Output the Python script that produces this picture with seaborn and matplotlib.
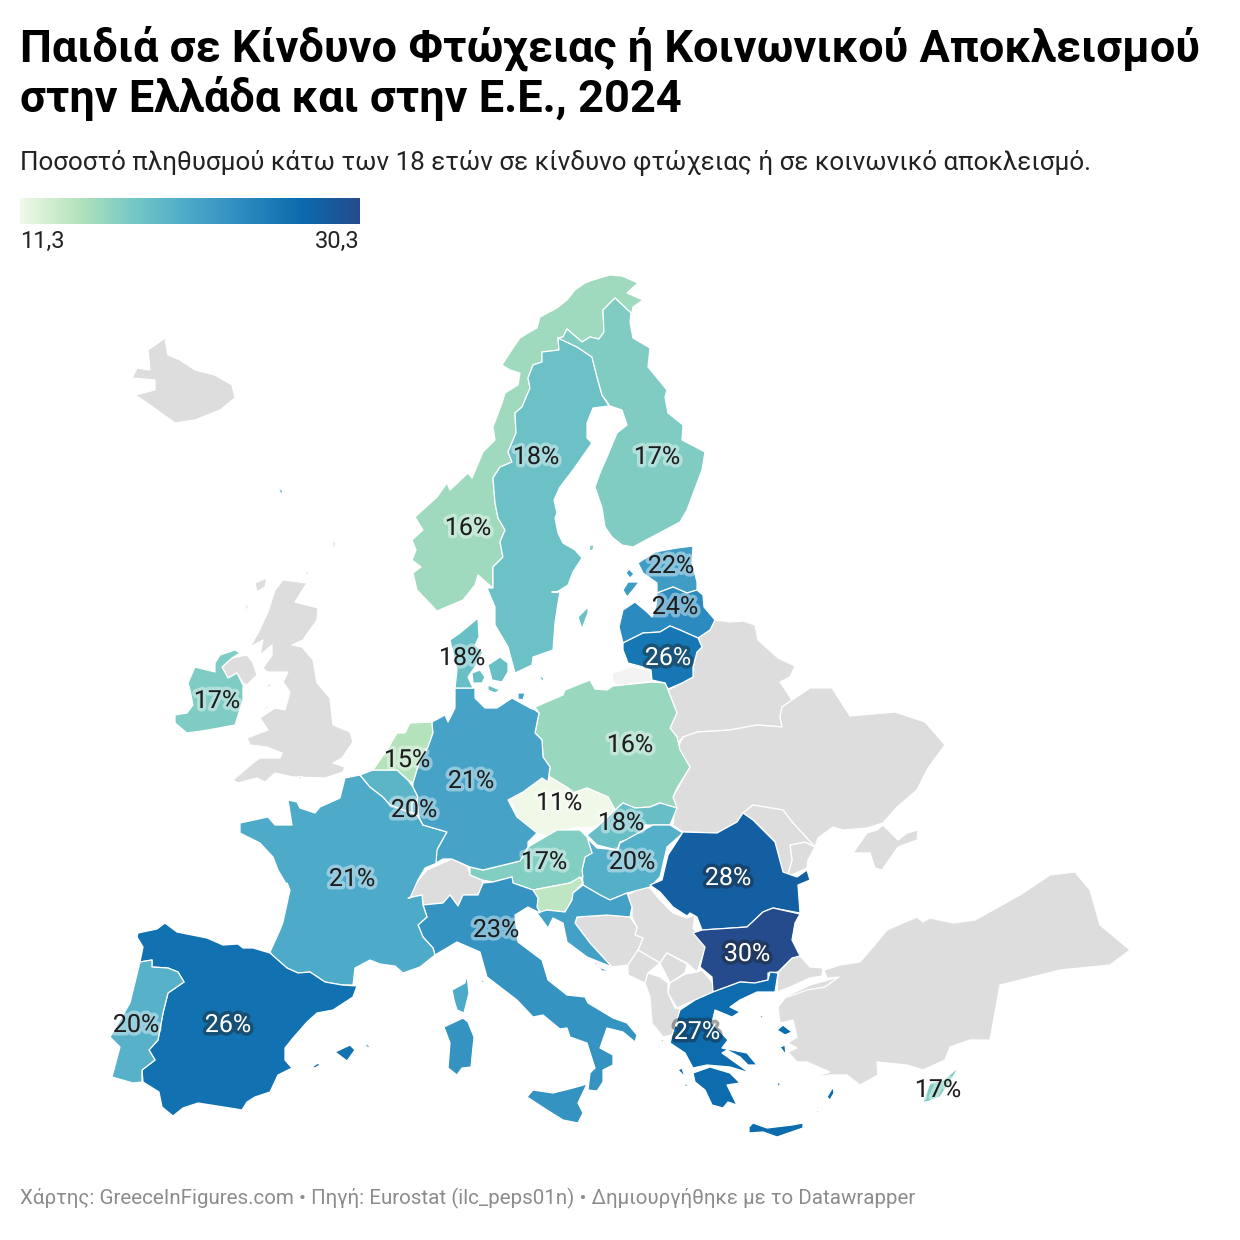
import numpy as np
import matplotlib
matplotlib.use("Agg")
import matplotlib.pyplot as plt
import matplotlib.patheffects as pe
import seaborn as sns

TITLE = ["Παιδιά σε Κίνδυνο Φτώχειας ή Κοινωνικού Αποκλεισμού", "στην Ελλάδα και στην Ε.Ε., 2024"]
SUBTITLE = "Ποσοστό πληθυσμού κάτω των 18 ετών σε κίνδυνο φτώχειας ή σε κοινωνικό αποκλεισμό."
FOOTER = "Χάρτης: GreeceInFigures.com • Πηγή: Eurostat (ilc_peps01n) • Δημιουργήθηκε με το Datawrapper"
LEGEND_MIN, LEGEND_MAX = "11,3", "30,3"

# Country values (share of under-18s at risk, %)
countries = ["NO", "SE", "FI", "EE", "LV", "LT", "PL", "CZ", "SK", "HU", "AT", "SI", "HR", "RO", "BG", "GR",
             "IT", "FR", "ES", "PT", "BE", "LU", "NL", "DE", "DK", "IE", "CY"]
values = [15.6, 18.3, 17.1, 21.9, 23.8, 25.7, 15.9, 11.3, 18.6, 20.1, 17.0, 14.0, 21.6, 28.2, 30.3, 26.9,
          22.9, 20.6, 26.3, 19.9, 19.5, 21.0, 14.6, 21.3, 18.5, 17.2, 17.0]
palette_stops = ["#f0f9e8", "#b6e3bb", "#75c8c5", "#4ba8c9", "#2989bd", "#0a6aad", "#254b8c"]

# Labels
label_text = ["18%", "17%", "16%", "22%", "24%", "26%", "18%", "17%", "16%", "15%", "21%", "11%",
              "20%", "18%", "17%", "20%", "28%", "21%", "23%", "30%", "26%", "20%", "27%", "17%"]
label_country = ["SE", "FI", "NO", "EE", "LV", "LT", "DK", "IE", "PL", "NL", "DE", "CZ",
                 "BE", "SK", "AT", "HU", "RO", "FR", "IT", "BG", "ES", "PT", "GR", "CY"]
label_x = [536, 657, 468, 671, 675, 668, 462, 217, 630, 407, 471, 559, 414, 621, 544, 632, 728, 352, 496, 747, 228, 136, 697, 938]
label_y = [457, 457, 528, 566, 607, 658, 658, 701, 745, 760, 781, 803, 810, 823, 862, 862, 878, 879, 930, 954, 1025, 1025, 1032, 1090]

# Map geometry (outlines of the base map, in figure pixels)
outlines = {
 "IS": [[(132,378),(137,368),(150,370),(148,350),(165,338),(168,355),(180,360),(195,370),(215,375),(232,385),(235,398),(220,410),(195,420),(175,423),(150,405),(135,395),(155,390),(155,380)]],
 "GB": [[(283,580),(307,583),(295,602),(318,608),(317,620),(303,640),(292,645),(302,647),(313,660),(317,683),(330,698),(333,725),(350,732),(353,742),(342,758),(333,763),(345,767),(343,772),(325,778),(293,777),(275,773),(265,782),(257,778),(238,783),(233,780),(253,763),(260,758),(280,758),(282,753),(267,747),(250,745),(247,738),(268,730),(260,718),(275,708),(285,710),(290,692),(283,682),(288,672),(267,672),(263,668),(272,655),(272,645),(260,655),(263,640),(250,647),(258,633),(268,612),(275,590)],
        [(255,583),(267,578),(265,587),(257,592)], [(245,608),(248,602),(248,610)],
        [(265,687),(272,682),(270,687)], [(265,705),(268,707),(267,712)], [(306,571),(309,572),(306,577)],
        [(333,540),(336,543),(333,552)], [(298,777),(303,777),(300,780)]],
 "NI": [[(222,667),(232,658),(247,655),(253,663),(257,675),(247,685),(243,683),(237,673),(228,678)]],
 "CH": [[(408,898),(413,887),(427,870),(452,859),(468,867),(470,875),(482,880),(483,888),(478,895),(463,895),(458,906),(450,895),(443,903),(423,905),(422,895)]],
 "BY": [[(715,620),(730,622),(743,621),(755,625),(758,640),(778,658),(795,666),(790,677),(780,682),(792,700),(782,707),(780,717),(782,727),(757,725),(730,730),(697,732),(683,737),(678,743),(677,737),(670,728),(677,713),(668,690),(682,683),(693,677),(693,667),(697,652),(702,647),(698,638),(710,630)]],
 "UA": [[(678,747),(683,737),(697,732),(730,730),(757,725),(782,727),(780,717),(782,707),(792,700),(810,688),(832,688),(850,716),(895,712),(925,722),(945,745),(928,768),(917,790),(897,807),(883,823),(867,828),(843,830),(833,827),(818,838),(815,847),(793,823),(783,810),(753,805),(743,813),(737,822),(717,833),(688,832),(683,832),(673,825),(675,807),(673,797),(690,767)],
        [(815,847),(808,860),(807,868),(787,877),(792,860),(790,845),(805,842)],
        [(867,833),(877,830),(883,825),(898,840),(907,833),(918,830),(917,840),(898,847),(882,870),(875,868),(870,853),(853,853)]],
 "MD": [[(753,805),(783,810),(793,823),(815,847),(805,842),(790,845),(792,860),(787,877),(783,872),(775,842),(753,820),(743,813)]],
 "RS": [[(627,895),(643,887),(650,888),(660,900),(673,913),(687,918),(695,915),(693,928),(707,945),(700,963),(697,972),(687,963),(667,953),(660,963),(638,950),(643,938),(635,935),(637,927),(632,917),(632,907)]],
 "XK": [[(667,953),(687,964),(685,973),(670,983),(660,963)]],
 "BA": [[(577,917),(607,915),(630,917),(637,927),(635,935),(643,938),(638,950),(628,965),(612,967),(590,943),(575,923)]],
 "ME": [[(638,950),(660,963),(648,973),(645,983),(628,975),(628,965)]],
 "MK": [[(670,983),(685,974),(697,972),(702,970),(713,983),(713,992),(695,1000),(677,1008),(668,993)]],
 "AL": [[(648,973),(660,977),(668,983),(668,993),(675,1008),(682,1010),(678,1023),(672,1035),(663,1037),(652,1023),(650,997),(645,983)]],
 "TR": [[(778,972),(792,958),(800,956),(810,967),(823,968),(822,976),(810,978),(790,987),(777,992)],
        [(783,998),(810,985),(839,977),(825,987),(800,993),(787,1002)],
        [(824,970),(840,965),(860,962),(873,947),(887,930),(917,917),(923,922),(930,918),(953,923),(975,920),(1020,895),(1050,875),(1075,872),(1090,890),(1100,925),(1130,950),(1110,965),(1060,970),(1000,985),(990,1040),(970,1040),(950,1047),(945,1060),(923,1070),(907,1065),(877,1062),(878,1075),(860,1085),(847,1075),(830,1075),(813,1077),(830,1072),(807,1062),(797,1062),(788,1052),(797,1048),(788,1043),(797,1037),(793,1020),(780,1023),(778,1007),(785,998),(807,990),(825,987),(839,977),(827,978)]],
 "RU_K": [[(613,673),(630,667),(650,670),(652,681),(617,686),(612,680)]],
 "NO": [[(610,275),(622,276),(638,283),(627,293),(643,300),(633,307),(630,322),(631,313),(615,298),(603,310),(604,332),(599,339),(590,337),(582,342),(567,329),(563,337),(558,338),(559,350),(542,352),(542,362),(533,365),(528,378),(530,388),(522,407),(515,413),(516,433),(508,452),(512,462),(500,467),(493,478),(495,503),(498,518),(505,530),(500,542),(503,557),(493,567),(493,588),(487,583),(478,575),(475,585),(463,600),(437,611),(417,590),(413,573),(421,567),(412,560),(416,550),(412,540),(423,530),(415,517),(437,497),(447,483),(450,490),(468,473),(472,478),(483,452),(495,440),(493,427),(502,403),(505,393),(518,385),(520,373),(510,370),(502,365),(513,348),(520,338),(528,333),(537,328),(540,317),(557,308),(567,300),(575,290),(585,283),(593,280),(603,277)]],
 "SE": [[(558,338),(577,347),(592,357),(597,377),(602,395),(609,406),(593,408),(587,423),(587,438),(592,443),(573,470),(560,487),(554,500),(557,513),(555,518),(558,533),(563,543),(575,550),(582,558),(573,572),(568,585),(557,592),(552,592),(560,592),(558,603),(555,623),(553,650),(533,657),(532,665),(515,673),(508,647),(495,625),(495,607),(487,588),(493,588),(493,567),(503,557),(500,542),(505,530),(498,518),(495,503),(493,478),(500,467),(512,462),(508,452),(516,433),(515,413),(522,407),(530,388),(528,378),(533,365),(542,362),(542,352),(559,350)],
        [(578,617),(588,607),(588,613),(582,629)], [(565,622),(558,647),(560,635)]],
 "FI": [[(567,329),(582,342),(590,337),(599,339),(604,332),(603,310),(615,298),(631,313),(630,322),(633,338),(650,348),(648,367),(667,390),(665,397),(668,413),(683,425),(682,440),(705,452),(702,470),(687,510),(680,522),(633,547),(622,545),(612,537),(605,527),(602,508),(595,487),(600,473),(607,457),(617,433),(627,425),(622,410),(610,406),(602,395),(597,377),(592,357),(577,347),(558,338),(563,337)],
        [(590,545),(594,545),(593,550),(589,551)]],
 "EE": [[(693,546),(692,563),(697,582),(697,590),(687,593),(673,587),(657,593),(657,583),(643,573),(638,563),(655,552),(677,548)],
        [(623,590),(628,582),(639,582),(633,590),(627,597)], [(626,573),(629,569),(634,574),(630,578)]],
 "LV": [[(657,593),(673,587),(687,593),(697,590),(703,595),(704,607),(715,620),(710,630),(698,638),(680,630),(670,626),(660,632),(643,633),(623,643),(619,627),(623,610),(635,602),(647,612),(652,617),(656,606)]],
 "LT": [[(623,643),(643,633),(660,632),(670,626),(680,630),(698,638),(702,647),(697,652),(693,667),(693,677),(682,683),(668,689),(665,683),(652,680),(651,670),(643,667),(628,663),(623,650)]],
 "PL": [[(535,707),(563,695),(565,690),(590,680),(595,689),(607,690),(613,686),(652,682),(665,683),(668,690),(677,713),(670,728),(677,737),(680,750),(690,767),(677,788),(673,797),(677,808),(660,803),(650,807),(635,808),(623,803),(615,810),(608,797),(587,788),(573,793),(568,788),(550,777),(548,782),(550,767),(543,757),(542,740),(535,733),(539,713)]],
 "CZ": [[(508,800),(523,792),(542,778),(548,782),(550,777),(568,788),(573,793),(587,788),(608,797),(615,810),(597,827),(572,828),(552,838),(537,833),(517,817),(513,805)]],
 "SK": [[(615,810),(623,803),(635,808),(650,807),(660,803),(677,808),(670,825),(660,825),(645,825),(643,835),(620,842),(617,850),(597,845),(587,835),(597,827)]],
 "HU": [[(670,825),(683,833),(667,847),(660,877),(650,887),(627,893),(610,900),(600,895),(583,885),(582,870),(585,857),(592,853),(587,838),(597,848),(618,850),(620,843),(653,825)]],
 "AT": [[(470,867),(483,870),(520,861),(528,847),(557,830),(580,830),(587,837),(592,853),(585,857),(582,870),(583,877),(570,883),(533,890),(513,883),(512,877),(493,882),(482,880),(470,875)]],
 "SI": [[(533,890),(570,883),(580,877),(583,883),(573,893),(572,900),(565,912),(547,910),(540,913),(537,907),(538,898)]],
 "HR": [[(583,885),(600,895),(610,900),(627,893),(632,907),(630,917),(607,915),(577,917),(575,923),(590,943),(612,967),(587,957),(567,942),(563,923),(553,918),(548,928),(537,913),(547,910),(565,912),(572,900),(573,893)],
        [(592,962),(600,964),(596,965)], [(598,967),(610,971),(602,971)]],
 "RO": [[(683,832),(717,833),(737,822),(743,813),(753,820),(775,842),(783,872),(797,877),(807,870),(810,880),(798,885),(800,913),(773,908),(763,912),(747,927),(702,930),(697,917),(690,913),(687,916),(673,907),(660,892),(650,885),(662,880),(668,855)]],
 "BG": [[(693,933),(702,930),(747,927),(763,912),(773,908),(800,914),(795,923),(792,940),(800,956),(792,958),(778,972),(768,973),(768,980),(755,983),(740,982),(713,992),(712,977),(700,967),(705,947)]],
 "GR": [[(713,992),(740,982),(755,983),(768,980),(770,972),(778,973),(775,992),(757,992),(740,1000),(730,1007),(740,1012),(732,1017),(715,1010),(712,1023),(728,1040),(722,1048),(747,1053),(757,1065),(748,1065),(740,1057),(727,1050),(722,1053),(750,1073),(730,1067),(707,1065),(693,1068),(685,1053),(670,1043),(673,1032),(680,1010),(695,1000)],
        [(693,1073),(710,1067),(730,1073),(740,1083),(727,1085),(737,1105),(728,1102),(723,1108),(712,1105),(705,1090),(695,1082)],
        [(749,1127),(753,1123),(767,1128),(792,1125),(803,1123),(803,1128),(777,1137),(763,1132),(749,1133)],
        [(777,1030),(783,1025),(792,1032),(785,1035)], [(780,1047),(785,1045),(786,1055)],
        [(827,1097),(833,1087),(834,1093),(830,1100)], [(758,1017),(764,1015),(762,1018)],
        [(746,1000),(749,1002),(747,1003)], [(659,1038),(663,1040),(665,1045)],
        [(678,1070),(682,1068),(685,1077)], [(683,1083),(688,1085),(686,1087)],
        [(818,1107),(819,1114),(817,1112)], [(777,1083),(781,1083),(778,1087)]],
 "IT": [[(423,905),(443,903),(450,895),(458,906),(463,895),(478,895),(483,883),(493,882),(512,877),(513,883),(533,890),(538,898),(537,907),(540,913),(528,907),(515,915),(518,942),(542,960),(548,980),(567,995),(585,997),(588,1003),(613,1018),(627,1023),(637,1035),(635,1042),(623,1032),(607,1028),(600,1048),(613,1055),(613,1065),(603,1070),(603,1082),(597,1091),(588,1090),(590,1073),(595,1068),(587,1043),(570,1037),(567,1028),(560,1029),(543,1015),(533,1017),(517,1000),(487,977),(480,952),(457,942),(435,955),(433,948),(423,937),(418,925),(427,917)],
        [(527,1097),(533,1090),(553,1093),(573,1088),(587,1084),(578,1103),(583,1113),(578,1123),(563,1120),(547,1110)],
        [(444,1027),(463,1018),(468,1022),(474,1037),(471,1067),(462,1068),(457,1075),(448,1068),(450,1043)],
        [(480,981),(484,980),(483,983)], [(566,1142),(569,1143),(567,1143)]],
 "FR": [[(360,775),(370,787),(383,797),(390,805),(417,815),(423,825),(447,832),(438,848),(437,863),(425,868),(418,880),(410,898),(408,898),(422,895),(423,905),(427,917),(418,925),(423,937),(433,948),(435,955),(420,967),(403,973),(395,966),(380,964),(370,960),(355,968),(353,985),(342,985),(325,982),(310,972),(298,973),(287,968),(272,955),(270,952),(280,930),(283,922),(290,890),(287,883),(288,887),(278,870),(273,857),(260,843),(240,833),(240,823),(268,817),(275,825),(292,825),(288,800),(297,802),(300,808),(315,813),(320,807),(340,798),(345,778)],
        [(452,990),(465,983),(467,975),(469,993),(464,1013),(457,1010),(454,1000)]],
 "ES": [[(138,933),(157,929),(165,923),(177,932),(207,938),(223,945),(238,944),(243,948),(253,948),(270,953),(287,968),(298,973),(310,972),(325,982),(342,985),(357,986),(353,997),(333,1010),(317,1013),(307,1022),(293,1038),(285,1048),(285,1060),(292,1068),(278,1075),(270,1092),(255,1097),(247,1102),(242,1110),(230,1108),(198,1103),(183,1108),(173,1116),(162,1107),(159,1092),(143,1082),(142,1070),(155,1060),(149,1050),(158,1040),(163,1013),(168,993),(184,982),(178,972),(168,968),(152,967),(152,960),(140,962),(143,947),(137,937)],
        [(335,1052),(350,1045),(355,1050),(347,1061)], [(363,1044),(368,1045),(372,1048),(367,1047)], [(312,1067),(318,1063),(320,1065),(315,1068)]],
 "PT": [[(140,962),(152,960),(152,967),(168,968),(178,972),(184,982),(168,993),(163,1013),(158,1040),(149,1050),(155,1060),(142,1070),(142,1082),(133,1083),(112,1077),(120,1047),(110,1037),(130,1003)]],
 "BE": [[(360,775),(373,770),(397,770),(408,780),(413,787),(418,797),(417,800),(412,803),(412,812),(417,815),(390,805),(383,797),(370,787)]],
 "LU": [[(417,800),(419,817),(417,815),(412,812),(412,803)]],
 "NL": [[(373,770),(387,750),(397,733),(405,733),(410,723),(432,722),(433,733),(428,747),(420,760),(417,770),(413,783),(408,780),(397,770)]],
 "DE": [[(432,722),(445,715),(448,722),(455,708),(455,688),(475,688),(475,698),(485,708),(497,708),(512,698),(530,708),(535,710),(539,713),(535,733),(542,740),(543,757),(550,767),(548,782),(542,778),(523,792),(508,800),(517,817),(537,833),(528,842),(528,847),(520,861),(483,870),(470,867),(452,859),(443,859),(436,863),(437,850),(447,832),(423,825),(419,817),(417,800),(418,797),(413,787),(413,783),(417,770),(420,760),(428,747),(433,733)],
        [(518,693),(525,693),(523,700),(518,699)]],
 "DK": [[(478,618),(479,637),(475,645),(483,652),(475,667),(468,677),(473,688),(455,688),(457,670),(450,640),(460,633)],
        [(500,657),(508,663),(508,672),(502,682),(492,680),(488,665)],
        [(472,673),(480,670),(485,677),(482,683),(473,683)], [(488,685),(500,690),(495,693),(488,690)],
        [(538,675),(544,678),(543,682)], [(278,487),(283,491),(281,495)]],
 "IE": [[(215,663),(220,655),(235,650),(240,653),(232,658),(222,667),(228,678),(237,673),(243,685),(243,700),(235,725),(208,730),(187,733),(175,723),(175,715),(187,713),(193,705),(190,690),(188,683),(195,667),(215,672)]],
 "CY": [[(923,1102),(930,1083),(943,1080),(959,1067),(950,1082),(940,1097),(927,1102)]],
}
gray_regions = ["IS", "GB", "NI", "CH", "BY", "UA", "MD", "RS", "XK", "BA", "ME", "MK", "AL", "TR"]

sns.set_theme(style="white")
plt.rcParams["font.family"] = ["Roboto", "DejaVu Sans"]

cmap = sns.blend_palette(palette_stops, as_cmap=True)
lo, hi = 11.3, 30.3
value_of = dict(zip(countries, values))
def colour(v):
    return cmap((v - lo) / (hi - lo))

fig = plt.figure(figsize=(12.4, 12.4), dpi=100, facecolor="white")
ax = fig.add_axes([0, 0, 1, 1])
ax.set_xlim(0, 1240)
ax.set_ylim(1240, 0)
ax.axis("off")

def draw(name, fc):
    for part in outlines[name]:
        xs, ys = zip(*part)
        ax.fill(xs, ys, facecolor=fc, edgecolor="white", linewidth=0.9, joinstyle="round")

for name in gray_regions:
    draw(name, "#dddddd")
draw("RU_K", "#f3f3f3")
for name in countries:
    draw(name, colour(value_of[name]))

for txt, c, x, y in zip(label_text, label_country, label_x, label_y):
    v = value_of[c]
    dark_fill = v >= 25
    fg = "white" if dark_fill else "#1d1d1d"
    halo = "#1d1d1d" if dark_fill else "white"
    ax.text(x, y, txt, ha="center", va="center", fontsize=18, color=fg,
            path_effects=[pe.withStroke(linewidth=5, foreground=halo, alpha=0.4)])

ax.text(20, 61, TITLE[0], fontsize=32.5, fontweight="bold", color="#000000", va="baseline")
ax.text(20, 112, TITLE[1], fontsize=32.5, fontweight="bold", color="#000000", va="baseline")
ax.text(20, 170, SUBTITLE, fontsize=18.7, color="#222222", va="baseline")
ax.text(20, 248, LEGEND_MIN, fontsize=17, color="#222222", va="baseline")
ax.text(360, 248, LEGEND_MAX, fontsize=17, color="#222222", va="baseline", ha="right")
ax.text(20, 1204, FOOTER, fontsize=14.8, color="#8c8c8c", va="baseline")

cax = fig.add_axes([20 / 1240, 1 - 224 / 1240, 340 / 1240, 26 / 1240])
sns.heatmap(np.linspace(lo, hi, 256)[None, :], cmap=cmap, vmin=lo, vmax=hi, cbar=False,
            xticklabels=False, yticklabels=False, ax=cax, rasterized=True)

fig.savefig("out.png", dpi=100, facecolor="white")
